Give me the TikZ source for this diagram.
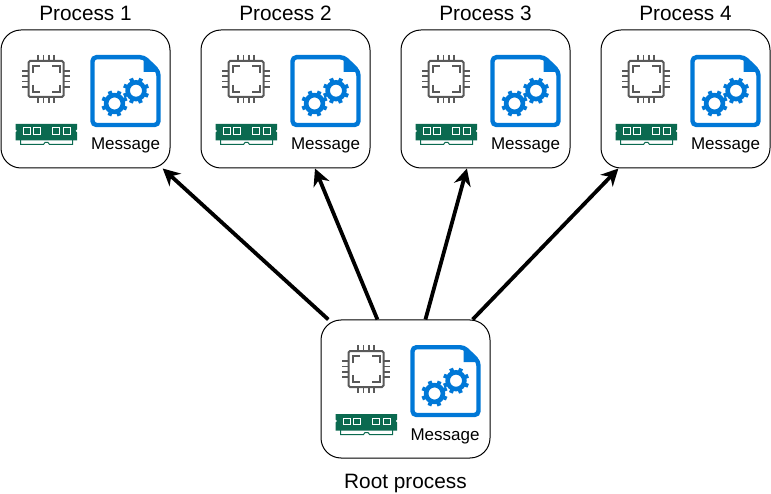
\documentclass[tikz,border=0pt]{standalone}
\usepackage{fontspec}
\setmainfont{Liberation Sans}
\usetikzlibrary{arrows.meta,positioning}
\definecolor{msgblue}{HTML}{0078D7}
\definecolor{ramgreen}{HTML}{0B6A50}
\definecolor{chipgray}{HTML}{595959}
\tikzset{
    procbox/.style={draw=black, line width=1pt, rounded corners=20pt, minimum width=169pt, minimum height=138pt, fill=white},
    proclabel/.style={font=\fontsize{20.8}{22}\selectfont, inner sep=0pt},
    msglabel/.style={font=\fontsize{17}{18}\selectfont, inner sep=0pt, anchor=base},
    msgarrow/.style={line width=3.8pt, -{Stealth[length=17pt,width=17pt]}},
    gearwheel/.pic={
        \draw[msgblue, line width=4.6pt] (0,0) circle (8.4pt);
        \foreach \a in {0,45,...,315}
            \draw[msgblue, line width=4pt] (\a+22:9pt) -- (\a+22:13.2pt);
    },
    procicons/.pic={
        % chip
        \draw[chipgray, line width=2pt, rounded corners=1.5pt] (28.5,61) rectangle (63.5,97);
        \foreach \d in {-8,-2.7,2.7,8} {
            \draw[chipgray, line width=1.6pt] (46+\d,55) -- (46+\d,61);
            \draw[chipgray, line width=1.6pt] (46+\d,97) -- (46+\d,103);
            \draw[chipgray, line width=1.6pt] (22,79+\d) -- (28.5,79+\d);
            \draw[chipgray, line width=1.6pt] (63.5,79+\d) -- (70,79+\d);
        }
        \draw[chipgray, line width=2pt] (33,73) -- (33,66) -- (40,66);
        \draw[chipgray, line width=2pt] (52,66) -- (59.5,66) -- (59.5,73);
        \draw[chipgray, line width=2pt] (33,85) -- (33,92) -- (40,92);
        \draw[chipgray, line width=2pt] (52,92) -- (59.5,92) -- (59.5,85);
        % memory
        \draw[ramgreen, line width=1pt] (20.5,140) -- (20.5,144.5) -- (43.5,144.5) -- (45,142.5) -- (48,142.5) -- (49.5,144.5) -- (72.5,144.5) -- (72.5,140);
        \fill[ramgreen] (15.5,124) -- (77,124) -- (77,129.5) -- (75.5,131) -- (77,132.5) -- (77,140.5) -- (15.5,140.5) -- (15.5,132.5) -- (17,131) -- (15.5,129.5) -- cycle;
        \foreach \x in {27,37,56,67}
            \draw[white, line width=1pt, fill=ramgreen] (\x-3.8,128) rectangle (\x+3.8,134.5);
        % document
        \draw[msgblue, line width=4.4pt, rounded corners=4pt] (92.5,57.2) -- (144,57.2) -- (158.5,71.5) -- (158.5,125) -- (92.5,125) -- cycle;
        \fill[msgblue] (143.5,56) -- (160,72) -- (143.5,72) -- cycle;
        \pic at (114.5,103.5) {gearwheel};
        \pic at (136,90.7) {gearwheel};
    },
}
\begin{document}
\begin{tikzpicture}[x=1pt, y=-1pt]
    \useasboundingbox (0,0) rectangle (771,494);
    \foreach \i/\x in {1/1,2/201,3/401,4/601} {
        \node[procbox] (box\i) at (\x+84.5,99) {};
        \pic at (\x-1,0) {procicons};
        \node[msglabel] (msg\i) at (\x+124.5,150) {Message};
        \node[proclabel, above=9pt of box\i] (label\i) {Process \i};
    }
    \node[procbox] (root) at (405.5,389) {};
    \pic at (320,290) {procicons};
    \node[msglabel] (msgroot) at (445,440) {Message};
    \node[proclabel, below=15.5pt of root] (rootlabel) {Root process};

    \draw[msgarrow] (root.138) -- (box1.-42);
    \draw[msgarrow] (root.112.4) -- (box2.-67.6);
    \draw[msgarrow] (root.74.2) -- (box3.-105.8);
    \draw[msgarrow] (root.46) -- (box4.-134);
\end{tikzpicture}
\end{document}
